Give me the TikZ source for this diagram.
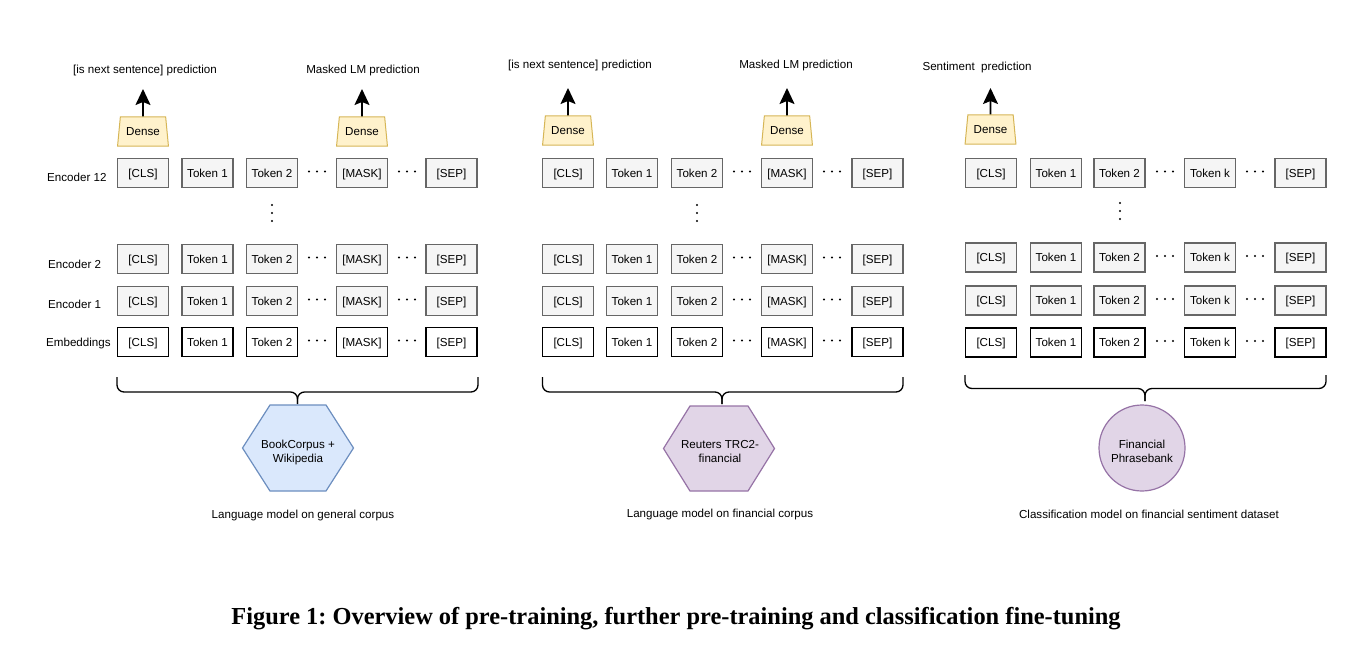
\documentclass[tikz,border=0pt]{standalone}
\usepackage{fontspec}
\setmainfont{Liberation Sans}
\newfontfamily\capfont{Liberation Serif}
\usetikzlibrary{shapes.geometric,arrows.meta,calc}

\definecolor{gfill}{HTML}{F5F5F5}
\definecolor{gline}{HTML}{666666}
\definecolor{dfill}{HTML}{FFF2CC}
\definecolor{dline}{HTML}{D6B656}
\definecolor{bfill}{HTML}{DAE8FC}
\definecolor{bline}{HTML}{6C8EBF}
\definecolor{pfill}{HTML}{E1D5E7}
\definecolor{pline}{HTML}{9673A6}

\newcommand{\panelrow}[5]{%
  \foreach \x/\t/\cid in #2 {\node[#4] (#1\cid) at (\x,#3) {\t};}
  \foreach \d in {#5} {\fill (\d-8,#3-1.5) circle (1.2pt) (\d,#3-1.5) circle (1.2pt) (\d+8,#3-1.5) circle (1.2pt);}
}
\def\colsA{143/{[CLS]}/c1,207.5/{Token 1}/c2,272/{Token 2}/c3,362/{[MASK]}/c4,451.5/{[SEP]}/c5}
\def\colsB{568/{[CLS]}/c1,632/{Token 1}/c2,697/{Token 2}/c3,787/{[MASK]}/c4,877.5/{[SEP]}/c5}
\def\colsC{991/{[CLS]}/c1,1056/{Token 1}/c2,1119.5/{Token 2}/c3,1210/{Token k}/c4,1300.5/{[SEP]}/c5}

\frenchspacing
\begin{document}
\begin{tikzpicture}[x=1pt,y=-1pt,
  font=\fontsize{11.6}{14}\selectfont,
  boxbase/.style={line width=1.3pt, minimum width=51pt, minimum height=29pt, inner sep=0pt, text height=8.2pt, text depth=0pt},
  tok/.style={boxbase, draw=gline, fill=gfill},
  emb/.style={boxbase, draw=black, fill=white},
  dense/.style={trapezium, trapezium angle=76, trapezium stretches=true, draw=dline, fill=dfill, line width=1pt, minimum width=51pt, minimum height=29pt, inner sep=0pt, text height=8.2pt, text depth=0pt},
  outarrow/.style={line width=1.6pt, -{Stealth[length=16pt,width=15pt,inset=3pt]}},
  brace/.style={line width=1.3pt, rounded corners=7pt},
  lbl/.style={anchor=west, inner sep=0pt, text height=8.2pt, text depth=0pt},
  hexline/.style={line width=1.2pt, line join=miter},
  txt/.style={inner sep=0pt},
  intxt/.style={inner sep=0pt, align=center, font=\fontsize{11.6}{14}\selectfont}
]
\useasboundingbox (0,0) rectangle (1370,658);

% ---------------- Panel 1 ----------------
\panelrow{A1}{\colsA}{173}{tok}{317,407}
\panelrow{A2}{\colsA}{259}{tok}{317,407}
\panelrow{A3}{\colsA}{301}{tok}{317,407}
\panelrow{A4}{\colsA}{342}{emb}{317,407}
\foreach \yy in {205,213,221} {\fill (272,\yy) circle (1.2pt);}
\node[lbl] (Al1) at (47,177) {Encoder 12};
\node[lbl] (Al2) at (48,264) {Encoder 2};
\node[lbl] (Al3) at (48,304) {Encoder 1};
\node[lbl] (Al4) at (46,342) {Embeddings};
\node[dense] (Ad1) at (143,131.5) {Dense};
\node[dense] (Ad2) at (362,131.5) {Dense};
\coordinate (Ao1) at (143,89);
\coordinate (Ao2) at (362,89);
\draw[outarrow] (Ad1.north) -- (Ao1);
\draw[outarrow] (Ad2.north) -- (Ao2);
\node[txt] (Ap1) at (145,71) {[is next sentence] prediction};
\node[txt] (Ap2) at (363,71) {Masked LM prediction};
\draw[brace] (117,377) -- (117,392) -- (297.5,392) -- (297.5,404);
\draw[brace] (478,377) -- (478,392) -- (297.5,392) -- (297.5,404);
\coordinate (Ah) at (298,448);
\draw[hexline, draw=bline, fill=bfill]
  ([shift={(-55.5,0)}]Ah) -- ([shift={(-28,-43)}]Ah) -- ([shift={(28,-43)}]Ah) --
  ([shift={(55.5,0)}]Ah) -- ([shift={(28,43)}]Ah) -- ([shift={(-28,43)}]Ah) -- cycle;
\node[intxt] (Ahx) at (298,452) {BookCorpus +\\Wikipedia};
\node[txt] (Ac) at (303,515) {Language model on general corpus};

% ---------------- Panel 2 ----------------
\panelrow{B1}{\colsB}{173}{tok}{742,832}
\panelrow{B2}{\colsB}{259}{tok}{742,832}
\panelrow{B3}{\colsB}{301}{tok}{742,832}
\panelrow{B4}{\colsB}{342}{emb}{742,832}
\foreach \yy in {205,213,221} {\fill (697,\yy) circle (1.2pt);}
\node[dense] (Bd1) at (568,130.5) {Dense};
\node[dense] (Bd2) at (787,130.5) {Dense};
\coordinate (Bo1) at (568,88);
\coordinate (Bo2) at (787,88);
\draw[outarrow] (Bd1.north) -- (Bo1);
\draw[outarrow] (Bd2.north) -- (Bo2);
\node[txt] (Bp1) at (580,66) {[is next sentence] prediction};
\node[txt] (Bp2) at (796,66) {Masked LM prediction};
\draw[brace] (542.5,377) -- (542.5,392) -- (722,392) -- (722,404);
\draw[brace] (903,377) -- (903,392) -- (722,392) -- (722,404);
\coordinate (Bh) at (719,448.5);
\draw[hexline, draw=pline, fill=pfill]
  ([shift={(-55.5,0)}]Bh) -- ([shift={(-29,-42.5)}]Bh) -- ([shift={(29,-42.5)}]Bh) --
  ([shift={(55.5,0)}]Bh) -- ([shift={(29,42.5)}]Bh) -- ([shift={(-29,42.5)}]Bh) -- cycle;
\node[intxt] (Bhx) at (720,451.5) {Reuters TRC2-\\financial};
\node[txt] (Bc) at (720,514) {Language model on financial corpus};

% ---------------- Panel 3 ----------------
\panelrow{C1}{\colsC}{173}{tok}{1165,1255}
\panelrow{C2}{\colsC}{257.5}{tok}{1165,1255}
\panelrow{C3}{\colsC}{300.5}{tok}{1165,1255}
\panelrow{C4}{\colsC}{342.5}{emb}{1165,1255}
\foreach \yy in {203,211,219} {\fill (1120,\yy) circle (1.2pt);}
\node[dense] (Cd1) at (990.5,129.5) {Dense};
\coordinate (Co1) at (990.5,88);
\draw[outarrow] (Cd1.north) -- (Co1);
\node[txt] (Cp1) at (977,68) {Sentiment\ \ prediction};
\draw[brace] (965,375) -- (965,388.5) -- (1145,388.5) -- (1145,401);
\draw[brace] (1326,375) -- (1326,388.5) -- (1145,388.5) -- (1145,401);
\node[circle, draw=pline, fill=pfill, line width=1.2pt, minimum size=86pt, inner sep=0pt] (Cc) at (1142,448) {};
\node[intxt] (Ccx) at (1142,451.5) {Financial\\Phrasebank};
\node[txt] (Cc2) at (1149,514) {Classification model on financial sentiment dataset};

% ---------------- Caption ----------------
\node[txt, font=\capfont\bfseries\fontsize{24.4}{28}\selectfont] (cap) at (676,619)
  {Figure 1: Overview of pre-training, further pre-training and classification fine-tuning};
\end{tikzpicture}
\end{document}
